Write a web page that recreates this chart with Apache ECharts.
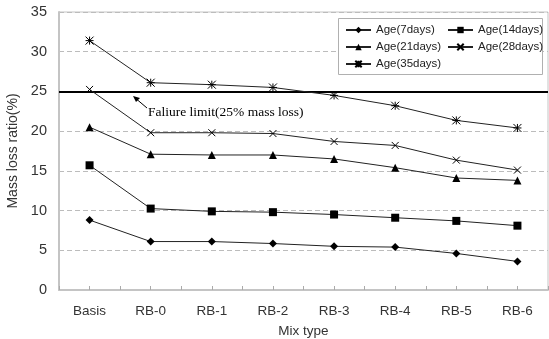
<!DOCTYPE html>
<html>
<head>
<meta charset="utf-8">
<script src="https://cdn.jsdelivr.net/npm/echarts@6/dist/echarts.min.js"></script>
<style>
  html, body { margin: 0; padding: 0; background: #fff; }
  #chart { width: 549px; height: 339px; }
</style>
</head>
<body>
<div id="chart"></div>
<script>
// 数据
const mixTypes = ['Basis', 'RB-0', 'RB-1', 'RB-2', 'RB-3', 'RB-4', 'RB-5', 'RB-6']
const age7 = [8.8, 6.1, 6.1, 5.85, 5.5, 5.4, 4.6, 3.6]
const age14 = [15.7, 10.25, 9.9, 9.8, 9.5, 9.1, 8.7, 8.1]
const age21 = [20.5, 17.1, 17.0, 17.0, 16.5, 15.4, 14.1, 13.8]
const age28 = [25.25, 19.8, 19.8, 19.7, 18.7, 18.2, 16.35, 15.1]
const age35 = [31.4, 26.1, 25.85, 25.5, 24.5, 23.2, 21.35, 20.4]
const yTicks = [0, 5, 10, 15, 20, 25, 30, 35]
const failureLimit = 25

const crossPath = 'path://M0,0 L10,10 M10,0 L0,10'
const starPath = 'path://M0,0 L10,10 M10,0 L0,10 M5,0 L5,10 M0,5 L10,5'

const labelFont = 'Liberation Sans'
const myechart = echarts.init(document.getElementById('chart'))

function makeSeries(name, data, symbol, size, stroke) {
  return {
    name: name,
    type: 'line',
    data: data,
    symbol: symbol,
    symbolSize: size,
    showSymbol: true,
    lineStyle: { color: '#222', width: 1 },
    itemStyle: stroke
      ? { color: '#000', borderColor: '#000', borderWidth: 1 }
      : { color: '#000', borderWidth: 0 },
    emphasis: { disabled: true },
    z: 3
  }
}

const series = [
  makeSeries('Age(7days)', age7, 'diamond', 8, false),
  makeSeries('Age(14days)', age14, 'rect', 8, false),
  makeSeries('Age(21days)', age21, 'triangle', 8, false),
  makeSeries('Age(28days)', age28, crossPath, 7, true),
  makeSeries('Age(35days)', age35, starPath, 8, true)
]
// 破坏界限线
series[0].markLine = {
  silent: true,
  symbol: 'none',
  label: { show: false },
  lineStyle: { color: '#000', width: 2, type: 'solid' },
  data: [{ yAxis: failureLimit }],
  z: 2
}

const legendText = { fontFamily: labelFont, fontSize: 11.5, color: '#222' }

const option = {
  animation: false,
  grid: {
    left: 59,
    right: 1,
    top: 12,
    bottom: 49,
    show: true,
    borderColor: '#c4c4c4',
    borderWidth: 1,
    containLabel: false,
    outerBoundsMode: 'none'
  },
  legend: [
    {
      orient: 'vertical',
      left: 345,
      top: 24,
      itemGap: 5,
      itemWidth: 25,
      itemHeight: 8,
      padding: 0,
      textStyle: legendText,
      data: ['Age(7days)', 'Age(21days)', 'Age(35days)'],
      z: 6
    },
    {
      orient: 'vertical',
      left: 447,
      top: 24,
      itemGap: 5,
      itemWidth: 25,
      itemHeight: 8,
      padding: 0,
      textStyle: legendText,
      data: ['Age(14days)', 'Age(28days)'],
      z: 6
    }
  ],
  xAxis: [
    {
      type: 'category',
      data: mixTypes,
      boundaryGap: true,
      name: 'Mix type',
      nameLocation: 'middle',
      nameGap: 34,
      nameTextStyle: { fontFamily: labelFont, fontSize: 13.5, color: '#333' },
      axisLine: { show: true, lineStyle: { color: '#c4c4c4', width: 2 } },
      axisTick: { show: true, inside: true, length: 4, interval: 0, lineStyle: { color: '#aaa' } },
      axisLabel: { fontFamily: labelFont, fontSize: 13.5, color: '#333', margin: 14 },
      splitLine: { show: false }
    },
    {
      // 类别中心的刻度
      type: 'category',
      data: mixTypes,
      boundaryGap: true,
      position: 'bottom',
      axisLine: { show: false },
      axisTick: { show: true, inside: true, length: 4, interval: 0, alignWithLabel: true, lineStyle: { color: '#aaa' } },
      axisLabel: { show: false },
      splitLine: { show: false }
    }
  ],
  yAxis: {
    type: 'value',
    min: yTicks[0],
    max: yTicks[yTicks.length - 1],
    interval: 5,
    name: 'Mass loss ratio(%)',
    nameLocation: 'middle',
    nameGap: 36,
    nameTextStyle: { fontFamily: labelFont, fontSize: 14, color: '#333' },
    axisLine: { show: true, lineStyle: { color: '#c4c4c4', width: 2 } },
    axisTick: { show: false },
    axisLabel: { fontFamily: labelFont, fontSize: 14.5, color: '#333', margin: 12 },
    splitLine: { show: true, lineStyle: { color: '#bcbcbc', type: [5, 3], width: 1 } }
  },
  graphic: [
    {
      type: 'rect',
      left: 338,
      top: 18,
      shape: { width: 204, height: 56 },
      style: { fill: '#fff', stroke: '#b0b0b0', lineWidth: 1 },
      z: 4
    },
    {
      type: 'text',
      left: 148,
      top: 105,
      style: {
        text: 'Faliure limit(25% mass loss)',
        font: '13.5px "Liberation Serif"',
        fill: '#000'
      },
      z: 6
    },
    {
      type: 'line',
      shape: { x1: 147, y1: 108, x2: 134, y2: 97 },
      style: { stroke: '#000', lineWidth: 1 },
      z: 6
    },
    {
      type: 'polygon',
      shape: { points: [[133, 96], [140, 98], [136, 102]] },
      style: { fill: '#000' },
      z: 6
    }
  ],
  series: series
}
myechart.setOption(option)
</script>
</body>
</html>
